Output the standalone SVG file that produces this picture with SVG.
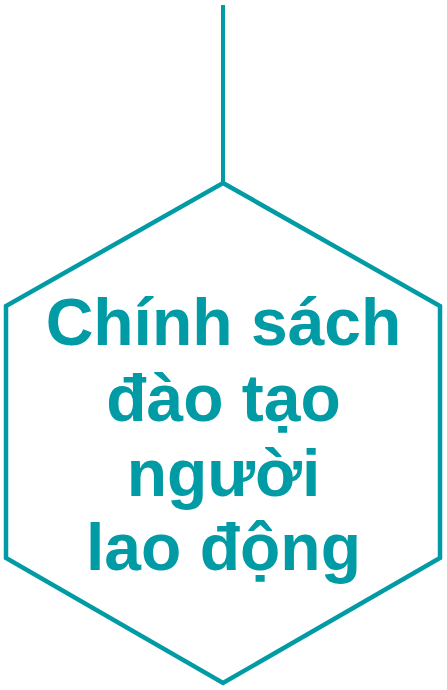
<svg xmlns="http://www.w3.org/2000/svg" width="447" height="690" viewBox="0 0 447 690">
<style>
.shape{fill:#ffffff;stroke:#009BA4;stroke-width:4.5;stroke-linejoin:miter}
.lbl{font-family:"Liberation Sans",Arial,sans-serif;font-weight:bold;font-size:66px;fill:#009BA4;text-anchor:middle}
</style>
<g id="connectors">
<line x1="223" y1="5" x2="223" y2="183" stroke="#009BA4" stroke-width="4"/>
</g>
<g id="node-hex">
<polygon class="shape" points="223,183 440,306 440,558 223,683 6,558 6,306"/>
<text class="lbl" x="223.5" y="345">Chính sách</text>
<text class="lbl" x="223.5" y="421">đào tạo</text>
<text class="lbl" x="223.5" y="496">người</text>
<text class="lbl" x="223.5" y="570">lao động</text>
</g>
</svg>
